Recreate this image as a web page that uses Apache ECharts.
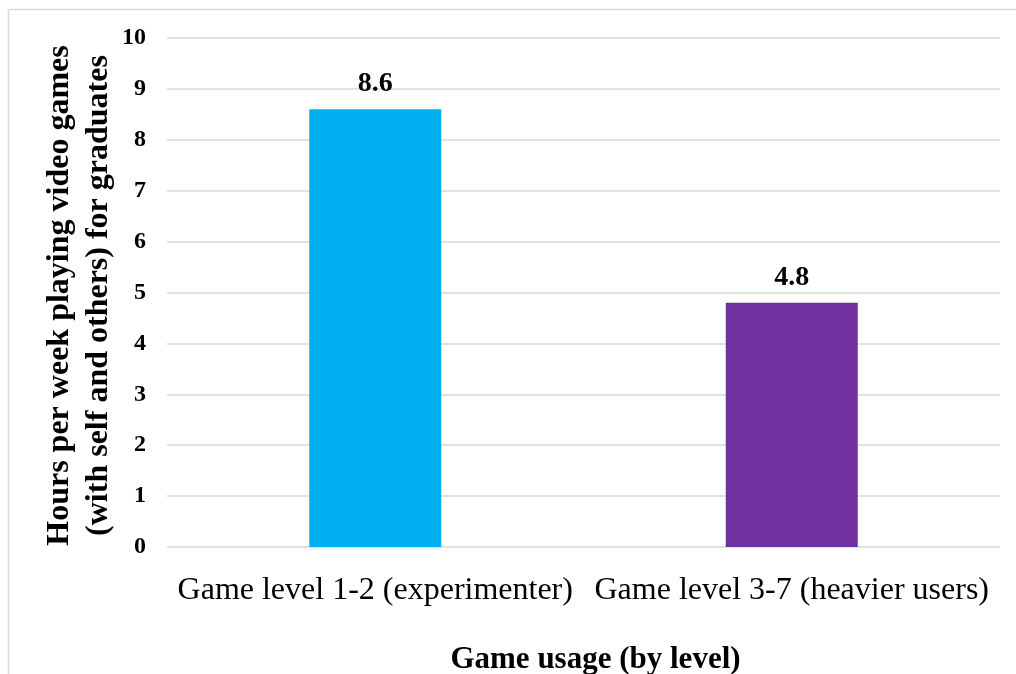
<!DOCTYPE html>
<html>
<head>
<meta charset="utf-8">
<script src="https://cdn.jsdelivr.net/npm/echarts@6/dist/echarts.min.js"></script>
<style>
  html, body { margin: 0; padding: 0; background: #fff; }
  #chart { width: 1016px; height: 674px; }
</style>
</head>
<body>
<div id="chart"></div>
<script>
const categories = ["Game level 1-2 (experimenter)", "Game level 3-7 (heavier users)"];
const hours = [8.6, 4.8];
const barColors = ["#00b0f0", "#7030a0"];

const font = "'Liberation Serif', 'Times New Roman', serif";

const chart = echarts.init(document.getElementById("chart"));

chart.setOption({
  animation: false,
  backgroundColor: "#fff",
  graphic: [
    {
      type: "rect",
      shape: { x: 8.5, y: 9.5, width: 1100, height: 1000 },
      style: { fill: "none", stroke: "#d9d9d9", lineWidth: 1.5 },
      silent: true
    }
  ],
  grid: {
    left: 167,
    right: 16,
    top: 38,
    bottom: 127,
    containLabel: false,
    outerBoundsMode: "none"
  },
  xAxis: {
    type: "category",
    data: categories,
    name: "Game usage (by level)",
    nameLocation: "middle",
    nameGap: 97,
    nameMoveOverlap: false,
    nameTextStyle: {
      fontFamily: font,
      fontSize: 31,
      fontWeight: "bold",
      color: "#000",
      padding: [0, 0, 0, 24]
    },
    axisLine: { show: false },
    axisTick: { show: false },
    axisLabel: {
      interval: 0,
      hideOverlap: false,
      margin: 28,
      fontFamily: font,
      fontSize: 32,
      color: "#000"
    }
  },
  yAxis: {
    type: "value",
    min: 0,
    max: 10,
    interval: 1,
    name: "Hours per week playing video games\n(with self and others) for graduates",
    nameLocation: "middle",
    nameRotate: 90,
    nameGap: 49,
    nameMoveOverlap: false,
    nameTextStyle: {
      fontFamily: font,
      fontSize: 32,
      fontWeight: "bold",
      color: "#000",
      lineHeight: 39,
      padding: [0, 6, 0, 0]
    },
    axisLine: { show: false },
    axisTick: { show: false },
    axisLabel: {
      margin: 21,
      fontFamily: font,
      fontSize: 24,
      fontWeight: "bold",
      color: "#000"
    },
    splitLine: {
      lineStyle: { color: "#d9d9d9", width: 1.5 }
    }
  },
  series: [
    {
      type: "bar",
      barWidth: 132,
      data: hours.map((v, i) => ({ value: v, itemStyle: { color: barColors[i] } })),
      label: {
        show: true,
        position: "top",
        distance: 11,
        fontFamily: font,
        fontSize: 28,
        fontWeight: "bold",
        color: "#000"
      }
    }
  ]
});
</script>
</body>
</html>
